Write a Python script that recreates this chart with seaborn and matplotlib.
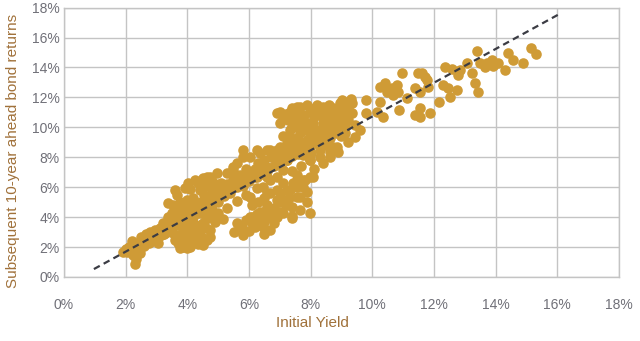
import matplotlib
matplotlib.use("Agg")
import matplotlib.pyplot as plt
import seaborn as sns
import pandas as pd
from matplotlib.ticker import FuncFormatter

# ---- data (percent) ----
band_low_x = [1.9, 2.0, 2.1, 2.15, 2.2, 2.25, 2.3, 2.35, 2.3, 2.4, 2.45, 2.5, 2.55, 2.6, 2.7, 2.75, 2.8, 2.9,
              2.95, 3.0, 3.05, 3.1, 3.15, 3.2, 3.25, 3.3, 3.35, 3.4, 3.45, 3.5, 2.05, 2.2, 2.4, 2.6, 2.85, 3.05,
              2.2, 2.5, 2.8, 3.1, 3.3, 3.4, 2.65, 2.95]
band_low_y = [1.7, 1.9, 2.0, 1.8, 2.1, 1.5, 0.9, 1.2, 2.2, 2.3, 1.6, 2.4, 2.2, 2.5, 2.6, 2.3, 2.7, 2.8,
              2.5, 2.9, 2.6, 3.0, 2.8, 3.1, 2.9, 3.3, 3.0, 3.4, 3.1, 3.6, 1.7, 1.6, 1.9, 2.1, 2.4, 2.3,
              2.4, 2.7, 3.0, 3.3, 3.6, 3.8, 2.85, 3.15]

mid_a_x = [3.37, 3.5, 3.53, 3.37, 3.66, 3.6, 3.92, 3.76, 3.99, 4.25, 4.02, 4.41, 4.73, 4.96, 4.6, 4.31, 4.18,
           3.99, 3.76, 3.86, 4.08, 4.31, 4.5, 4.73, 4.73, 4.5, 4.41, 4.73, 4.83, 4.96, 3.66, 3.53, 3.6, 3.86,
           4.18, 3.2, 3.76, 3.99, 4.64, 4.4, 3.7, 3.9, 4.0, 4.1, 4.2, 4.3, 4.45, 4.55, 4.65, 4.8, 4.9, 3.8,
           4.0, 4.2, 4.6, 3.55, 3.45, 4.1, 4.35, 4.5, 4.8, 3.3, 3.9, 4.9]
mid_a_y = [4.0, 4.3, 4.8, 4.93, 5.47, 5.8, 5.93, 5.0, 5.13, 6.47, 6.27, 5.8, 6.67, 6.93, 6.1, 4.93, 4.0,
           3.33, 2.67, 2.0, 2.0, 2.47, 2.13, 2.67, 3.13, 3.6, 4.27, 4.27, 4.93, 5.33, 3.6, 2.93, 2.47, 2.67,
           3.13, 3.6, 1.93, 1.93, 2.47, 2.8, 4.2, 4.5, 3.9, 4.7, 5.3, 4.3, 5.0, 5.5, 4.6, 5.8, 6.2, 3.4,
           3.0, 3.6, 3.9, 3.9, 3.6, 5.9, 6.3, 6.6, 6.4, 3.3, 3.9, 3.7]

mid_b_x = [4.64, 5.28, 5.48, 4.83, 5.28, 5.7, 6.03, 6.26, 6.58, 6.9, 7.23, 7.42, 6.9, 6.58, 6.26, 5.0, 5.2,
           5.4, 5.6, 5.8, 6.0, 6.2, 6.4, 5.1, 5.5, 5.9, 5.3, 5.6, 5.9, 5.0, 5.15, 5.38, 5.48, 5.48, 5.6, 5.8,
           6.03, 6.35, 6.68, 7.0, 7.26, 5.8, 6.26, 6.58, 6.9, 7.23, 7.55, 7.88, 5.96, 6.26, 6.58, 6.9, 7.23,
           7.1, 6.68, 6.45, 6.68, 7.0, 7.16, 6.9, 6.58, 7.1, 7.39, 6.74, 6.45, 6.19, 6.09, 5.77, 5.8, 6.35,
           6.35, 6.68, 7.0, 5.7, 6.03, 6.26, 6.7, 7.39, 5.5, 5.6, 6.0, 6.5]
mid_b_y = [6.67, 6.93, 7.33, 5.8, 5.6, 6.27, 5.33, 5.93, 5.6, 5.8, 5.8, 6.27, 6.67, 6.67, 6.67, 5.0, 5.4,
           5.9, 6.0, 6.5, 6.9, 7.2, 7.4, 6.3, 6.6, 7.2, 4.6, 5.1, 5.5, 4.3, 3.9, 5.6, 6.47, 7.13, 7.6, 8.0,
           8.0, 8.27, 8.47, 8.67, 8.93, 8.47, 8.5, 8.47, 8.5, 8.93, 8.93, 9.0, 6.93, 7.13, 7.33, 7.6, 7.8,
           7.13, 6.47, 6.0, 5.6, 5.6, 5.13, 5.13, 4.8, 4.27, 3.93, 3.93, 3.33, 3.33, 4.0, 3.33, 2.8, 4.33,
           3.6, 3.13, 4.33, 3.33, 4.0, 4.2, 4.3, 4.1, 3.0, 3.6, 3.1, 2.9]

upper_x = [7.55, 7.71, 7.39, 7.26, 7.65, 7.97, 8.07, 7.33, 7.55, 6.9, 7.65, 7.88, 8.14, 8.4, 8.72, 9.01, 9.04,
           9.34, 9.34, 9.2, 8.95, 9.1, 8.85, 8.72, 8.88, 8.62, 8.4, 8.07, 7.81, 7.55, 7.55, 7.97, 7.75, 7.55,
           7.75, 7.97, 8.2, 8.4, 8.52, 8.3, 8.62, 8.95, 8.85, 9.04, 9.43, 9.43, 8.23, 7.97, 7.33, 7.65, 8.2,
           8.62, 8.85, 8.62, 8.3, 7.97, 7.75, 7.42, 7.23, 6.9, 7.55, 7.75, 7.97, 7.75, 7.88, 7.88, 7.55, 7.33,
           7.1, 7.65, 7.65, 7.97, 7.4, 8.1, 8.5, 9.2, 9.0, 8.0, 7.7, 7.4, 8.3, 7.1, 7.0, 7.45, 8.8, 9.6, 9.25]
upper_y = [9.27, 9.8, 10.0, 10.47, 10.67, 11.0, 10.27, 11.0, 11.33, 10.93, 11.33, 11.47, 11.27, 11.33, 11.27,
           11.8, 11.47, 11.6, 10.93, 10.47, 10.27, 10.0, 9.6, 8.67, 8.33, 8.0, 7.6, 6.67, 6.47, 6.47, 6.0,
           7.8, 8.67, 10.0, 10.47, 9.8, 9.33, 10.27, 9.13, 8.47, 10.67, 11.6, 10.93, 9.8, 10.13, 9.33, 9.8,
           9.6, 9.8, 9.6, 8.93, 9.27, 8.67, 8.33, 8.0, 7.8, 8.13, 8.47, 7.8, 7.6, 6.8, 6.47, 6.67, 6.0, 5.67,
           5.0, 5.33, 5.8, 6.27, 5.33, 4.47, 4.27, 4.7, 7.2, 8.8, 9.0, 9.4, 8.3, 7.4, 7.1, 10.8, 10.6, 11.0,
           10.6, 10.3, 9.8, 10.9]

dense_x = [2.0, 2.1, 2.2, 2.3, 2.35, 2.45, 2.5, 2.55, 2.65, 2.7, 2.8, 2.9, 2.95, 3.0, 3.1, 3.2, 3.3, 3.4,
           3.5, 3.5, 3.6, 3.6, 3.7, 3.8, 3.8, 3.9, 4.0, 4.1, 4.2, 4.3, 4.4, 4.5, 4.6, 4.7, 4.8, 4.9, 5.0,
           5.1, 5.2, 5.3, 5.4, 5.5, 5.6, 5.7, 5.8, 5.9, 6.0, 6.1, 6.2, 6.3, 6.4, 6.5, 6.6, 6.7, 6.8, 6.9,
           7.0, 7.1, 7.2, 7.3, 7.4, 7.5, 7.6, 7.7, 7.8, 7.9, 8.0, 8.1, 8.2, 8.3, 8.4, 8.5, 8.6, 8.7, 8.8,
           8.9, 9.0, 9.1, 9.2, 9.3]
dense_y = [1.8, 1.9, 1.9, 2.0, 1.7, 2.1, 2.0, 2.5, 2.3, 2.4, 2.5, 2.6, 3.0, 2.7, 2.8, 2.9, 3.1, 3.2,
           3.3, 3.9, 3.5, 4.4, 3.7, 3.9, 4.8, 4.1, 4.3, 4.1, 4.5, 4.8, 4.6, 4.9, 5.2, 5.1, 5.4, 5.6, 5.7,
           5.5, 5.9, 6.2, 6.1, 6.4, 6.3, 6.8, 6.1, 6.6, 6.4, 7.0, 6.7, 7.6, 6.9, 7.8, 7.1, 8.0, 7.4, 8.1,
           7.7, 8.3, 7.9, 8.5, 8.1, 8.6, 8.2, 9.0, 8.5, 9.2, 8.8, 9.5, 9.0, 9.7, 9.2, 10.0, 9.6, 10.3, 9.9,
           10.6, 10.1, 10.8, 11.2, 11.9]

lower_x = [3.7, 3.8, 3.9, 4.0, 4.1, 4.2, 4.3, 4.35, 4.5, 4.6, 3.9, 4.1, 4.4, 4.6, 4.8, 4.85,
           5.9, 6.1, 6.3, 6.5, 6.6, 6.8, 6.9, 6.55, 6.8, 7.0, 7.2, 7.3, 6.3, 6.1, 6.5]
lower_y = [2.3, 2.9, 2.4, 2.6, 2.3, 2.8, 3.0, 2.2, 2.6, 3.3, 3.5, 3.4, 3.5, 4.3, 4.5, 3.9,
           3.8, 3.6, 3.9, 3.7, 4.1, 3.6, 4.0, 4.5, 4.6, 5.0, 4.8, 5.3, 5.0, 4.8, 5.3]

top_x = [7.0, 7.2, 7.4, 7.6, 7.8, 7.9, 8.1, 8.2, 8.5, 8.6, 8.8, 9.0, 9.2, 7.5, 7.8, 8.4, 8.9, 9.1, 7.1, 7.35]
top_y = [10.3, 10.9, 11.3, 10.9, 10.8, 10.3, 10.7, 11.5, 10.9, 11.5, 11.0, 11.0, 11.7, 10.3, 9.9, 10.7,
         9.9, 9.6, 9.4, 9.3]

high_x = [9.79, 9.79, 10.15, 10.34, 10.24, 10.24, 10.4, 10.47, 10.63, 10.66, 10.79, 10.83, 10.86, 10.96,
          11.12, 11.38, 11.47, 11.6, 11.54, 11.38, 11.54, 11.54, 11.77, 11.7, 11.8, 11.86, 12.16, 12.35,
          12.29, 12.51, 12.58, 12.45, 12.74, 12.77, 12.84, 13.06, 13.23, 13.32, 13.39, 13.42, 13.48, 13.65,
          13.71, 13.87, 13.91, 14.07, 14.29, 14.39, 14.55, 14.88, 15.14, 15.3]
high_y = [11.8, 10.93, 11.0, 10.67, 11.67, 12.67, 12.93, 12.33, 12.6, 12.13, 12.8, 12.33, 11.13, 13.6,
          11.93, 12.6, 13.6, 13.6, 12.33, 10.8, 11.27, 10.67, 13.13, 13.33, 12.67, 10.93, 11.67, 14.0,
          12.8, 12.0, 13.93, 12.6, 12.47, 13.47, 13.8, 14.33, 13.6, 12.93, 15.13, 12.33, 14.33, 14.0,
          14.27, 14.47, 14.13, 14.27, 13.8, 15.0, 14.47, 14.27, 15.27, 14.87]

trend_x = [0.97, 16.14]
trend_y = [0.53, 17.65]

tick_values = [0, 2, 4, 6, 8, 10, 12, 14, 16, 18]

initial_yield = band_low_x + mid_a_x + mid_b_x + upper_x + dense_x + lower_x + top_x + high_x
returns = band_low_y + mid_a_y + mid_b_y + upper_y + dense_y + lower_y + top_y + high_y
df = pd.DataFrame({"Initial Yield": initial_yield, "Return": returns})
trend = pd.DataFrame({"x": trend_x, "y": trend_y})

# ---- style ----
sns.set_theme(style="white")
plt.rcParams["font.family"] = ["Liberation Sans", "DejaVu Sans"]

dot_color = "#CF9B36"
grid_color = "#C4C4C4"
tick_color = "#707078"
label_color = "#A0713A"

fig = plt.figure(figsize=(6.4, 3.41), dpi=100)
ax = fig.add_axes([0.1, 0.1877, 0.867, 0.79])

sns.scatterplot(data=df, x="Initial Yield", y="Return", ax=ax, color=dot_color,
                s=58, linewidth=0, alpha=1.0, zorder=3)
sns.lineplot(data=trend, x="x", y="y", ax=ax, color="#3B3C44", linewidth=1.6,
             zorder=4)
ax.lines[-1].set_dashes((3.0, 2.0))

ax.set_xlim(0, 18)
ax.set_ylim(0, 18)
ax.set_xticks(tick_values)
ax.set_yticks(tick_values)
fmt = FuncFormatter(lambda v, p: f"{v:.0f}%")
ax.xaxis.set_major_formatter(fmt)
ax.yaxis.set_major_formatter(fmt)

ax.grid(True, color=grid_color, linewidth=1.0, zorder=0)
ax.set_axisbelow(True)
for side in ["left", "bottom", "right", "top"]:
    ax.spines[side].set_color(grid_color)
    ax.spines[side].set_linewidth(1.0)

ax.tick_params(axis="both", length=0, labelsize=10, colors=tick_color)
ax.tick_params(axis="x", pad=15)
ax.tick_params(axis="y", pad=3)

ax.set_xlabel("Initial Yield", fontsize=11, color=label_color)
ax.set_ylabel("Subsequent 10-year ahead bond returns", fontsize=11, color=label_color)
ax.xaxis.set_label_coords(0.447, -0.171)
ax.xaxis.label.set_va("center")
ax.yaxis.set_label_coords(-0.092, 0.468)
ax.yaxis.label.set_va("center")

fig.savefig("out.png", dpi=100)
